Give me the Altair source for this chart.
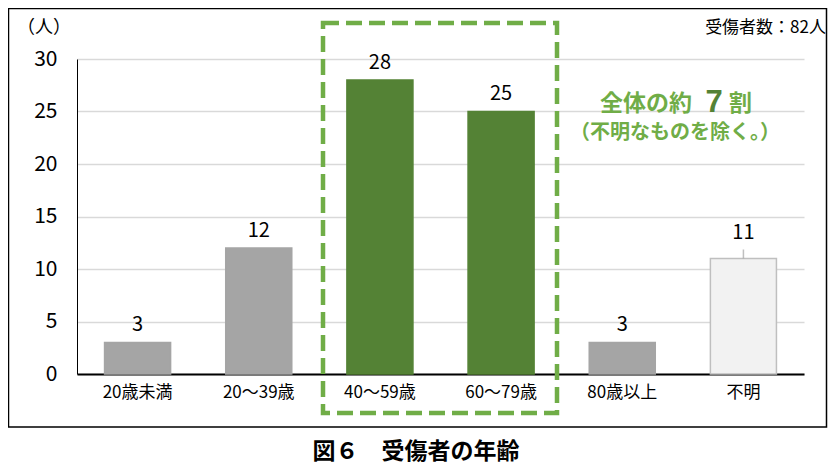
import altair as alt
import pandas as pd

categories = ["20歳未満", "20～39歳", "40～59歳", "60～79歳", "80歳以上", "不明"]
counts = [3, 12, 28, 25, 3, 11]
bar_colors = ["#a5a5a5", "#a5a5a5", "#548235", "#548235", "#a5a5a5", "#f2f2f2"]
bar_strokes = ["#a5a5a5", "#a5a5a5", "#548235", "#548235", "#a5a5a5", "#bfbfbf"]
y_ticks = [0, 5, 10, 15, 20, 25, 30]

title_text = "図６　受傷者の年齢"
unit_text = "（人）"
total_text = "受傷者数：82人"
note_parts = ["全体の約", "7", "割"]
note_sub = "（不明なものを除く。）"

df = pd.DataFrame({"cat": categories, "n": counts})
one = pd.DataFrame({"a": [0]})

NUM_FONT = "Liberation Sans Narrow, Arial Narrow, Noto Sans CJK JP, sans-serif"
JP_FONT = "Noto Sans CJK JP"
GREEN_L = "#70ad47"
GREEN_D = "#548235"

W, H = 727, 315

x_enc = alt.X(
    "cat:N", sort=categories,
    scale=alt.Scale(paddingInner=0.455),
    axis=alt.Axis(title=None, labelAngle=0, labelFontSize=17, labelFont=NUM_FONT,
                  labelColor="#000", labelPadding=10, ticks=False, tickSize=0,
                  domainColor="#000", domainWidth=2, grid=False),
)
y_enc = alt.Y(
    "n:Q", scale=alt.Scale(domain=[0, 30], nice=False),
    axis=alt.Axis(title=None, values=y_ticks, labelFontSize=21, labelFont=NUM_FONT,
                  labelColor="#000", labelPadding=20, ticks=False, tickSize=0,
                  domainColor="#000", domainWidth=1, gridColor="#d9d9d9", gridWidth=1.5),
)

base = alt.Chart(df)

outer = alt.Chart(one).mark_rect(fillOpacity=0, stroke="#000", strokeWidth=1.5).encode(
    x=alt.value(-68.5), x2=alt.value(749.5), y=alt.value(-50.5), y2=alt.value(368)
)

bars = base.mark_bar(strokeWidth=1.5).encode(
    x=x_enc, y=y_enc,
    color=alt.Color("cat:N", scale=alt.Scale(domain=categories, range=bar_colors), legend=None),
    stroke=alt.Stroke("cat:N", scale=alt.Scale(domain=categories, range=bar_strokes), legend=None),
)

labels = base.transform_filter(alt.datum.cat != "不明").mark_text(
    baseline="alphabetic", dy=-11.5, fontSize=20, font=NUM_FONT, color="#000"
).encode(x=alt.X("cat:N", sort=categories), y="n:Q", text="n:Q")

labels_unk = base.transform_filter(alt.datum.cat == "不明").mark_text(
    baseline="alphabetic", dy=-20, fontSize=20, font=NUM_FONT, color="#000"
).encode(x=alt.X("cat:N", sort=categories), y="n:Q", text="n:Q")

tick_unk = base.transform_filter(alt.datum.cat == "不明").mark_tick(
    orient="vertical", size=9, thickness=1.5, color="#a5a5a5", yOffset=-4.5
).encode(x=alt.X("cat:N", sort=categories), y="n:Q")

def txt(text, x, y, **kw):
    return alt.Chart(one).mark_text(text=text, **kw).encode(x=alt.value(x), y=alt.value(y))

unit = txt(unit_text, -33, -31, fontSize=18, font=JP_FONT, color="#000", baseline="middle", align="center")
total = txt(total_text, 749, -31.5, fontSize=17, font=NUM_FONT, color="#000", baseline="middle", align="right")
n1 = txt(note_parts[0], 523, 51.5, fontSize=23, font=JP_FONT, fontWeight="bold", color=GREEN_L, baseline="alphabetic", align="left")
n2 = txt(note_parts[1], 637, 53, fontSize=31, font="Liberation Sans", fontWeight="bold", color=GREEN_D, baseline="alphabetic", align="center")
n3 = txt(note_parts[2], 652, 51.5, fontSize=23, font=JP_FONT, fontWeight="bold", color=GREEN_L, baseline="alphabetic", align="left")
sub = txt(note_sub, 598, 74, fontSize=20, font=JP_FONT, fontWeight="bold", color=GREEN_L, baseline="middle", align="center")
title = txt(title_text, 339, 392.5, fontSize=23, font=JP_FONT, fontWeight="bold", color="#000", baseline="middle", align="center")

dashed = alt.Chart(one).mark_rect(fillOpacity=0, stroke=GREEN_L, strokeWidth=4.5, strokeDash=[16, 7]).encode(
    x=alt.value(246), x2=alt.value(480), y=alt.value(-36), y2=alt.value(354)
)

chart = alt.layer(
    outer, bars, labels, labels_unk, tick_unk, unit, total, n1, n2, n3, sub, title, dashed
).properties(
    width=W, height=H,
    autosize=alt.AutoSizeParams(type="none"),
    padding={"left": 69, "top": 51, "right": 26, "bottom": 96},
    background="#ffffff",
).configure_view(strokeWidth=0)

chart.save("out.html", embed_options={"renderer": "svg", "actions": False})
